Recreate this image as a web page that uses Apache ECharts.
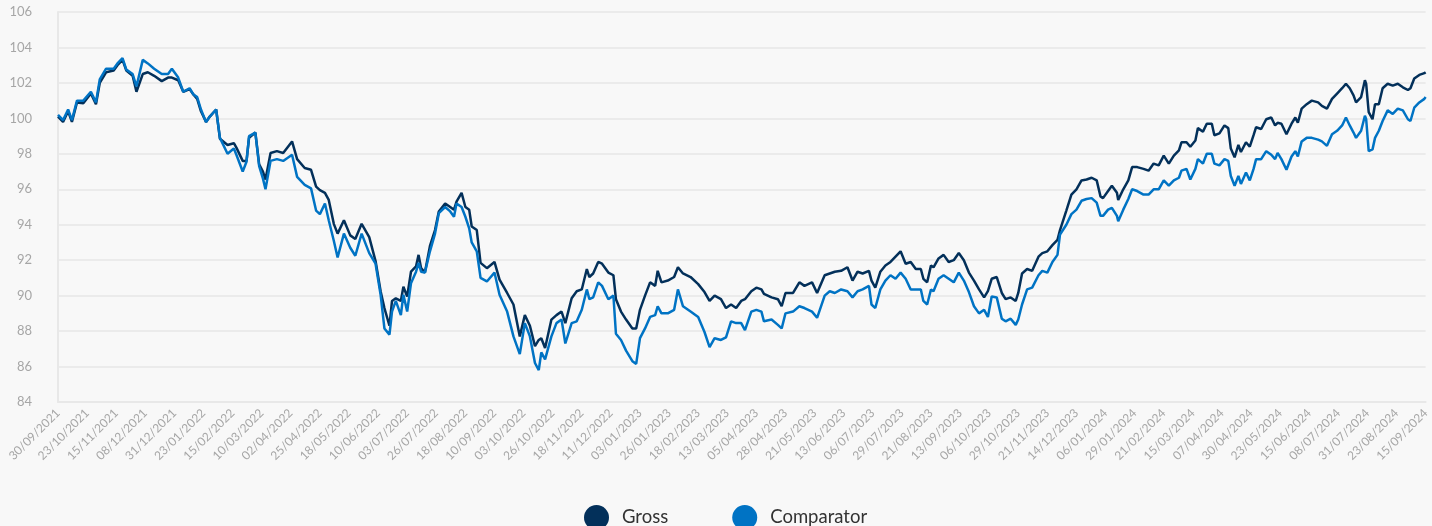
<!DOCTYPE html>
<html>
<head>
<meta charset="utf-8">
<script src="https://cdn.jsdelivr.net/npm/echarts@6/dist/echarts.min.js"></script>
<style>
  html, body { margin: 0; padding: 0; background: #f8f8f8; }
  #chart { width: 1432px; height: 526px; }
</style>
</head>
<body>
<div id="chart"></div>
<script>
// tick labels, one every 23 days from 30/09/2021
var tickLabels = ['30/09/2021','23/10/2021','15/11/2021','08/12/2021','31/12/2021',
  '23/01/2022','15/02/2022','10/03/2022','02/04/2022','25/04/2022','18/05/2022','10/06/2022',
  '03/07/2022','26/07/2022','18/08/2022','10/09/2022','03/10/2022','26/10/2022','18/11/2022','11/12/2022',
  '03/01/2023','26/01/2023','18/02/2023','13/03/2023','05/04/2023','28/04/2023','21/05/2023','13/06/2023',
  '06/07/2023','29/07/2023','21/08/2023','13/09/2023','06/10/2023','29/10/2023','21/11/2023','14/12/2023',
  '06/01/2024','29/01/2024','21/02/2024','15/03/2024','07/04/2024','30/04/2024','23/05/2024','15/06/2024',
  '08/07/2024','31/07/2024','23/08/2024','15/09/2024'];

// day offset from 30/09/2021 of each reading
var days = [0,4,8,11,15,20,26,30,33,38,44,47,51,54,59,62,67,71,76,82,87,90,95,99,104,107,110,113,117,120,125,128,134,139,
  141,146,149,151,156,159,162,164,168,173,178,185,189,195,200,204,207,211,214,218,221,226,231,235,240,246,251,255,258,262,264,267,271,
  273,276,279,283,285,287,290,294,298,301,306,310,313,315,319,322,325,327,331,334,339,345,349,355,360,365,369,373,377,380,382,385,390,394,398,401,406,
  410,414,418,420,423,427,430,435,439,441,445,449,454,457,460,464,468,472,474,477,482,487,490,494,500,506,511,515,519,524,528,532,536,
  540,543,548,552,556,558,564,569,572,575,581,586,590,596,600,606,610,614,619,624,628,632,636,641,643,646,650,654,658,662,666,670,674,
  678,682,684,687,690,692,696,700,704,708,712,716,720,724,728,732,735,738,742,746,749,753,757,759,762,766,770,775,778,782,786,790,792,797,801,
  805,809,813,817,821,824,826,830,833,837,838,842,846,849,853,858,862,866,870,874,878,882,886,888,892,895,899,901,905,908,912,914,918,922,925,927,930,933,935,939,942,945,
  947,951,955,959,962,964,967,971,975,978,980,983,987,991,996,999,1003,1007,1011,1015,1018,1021,1024,1026,1030,1033,1034,1036,1039,1041,1044,1047,1051,1055,1059,1063,1067,1069,1072,1076,1080,1081];

var gross = [100.1,99.8,100.4,99.8,100.9,100.85,101.4,100.8,102.0,102.6,102.7,103.0,103.3,102.7,102.4,101.5,102.5,102.6,102.4,102.1,102.3,102.3,102.15,101.5,101.65,101.35,101.1,100.4,99.8,100.1,100.5,98.85,98.5,98.6,
  98.35,97.6,97.6,98.9,99.2,97.4,97.0,96.55,98.05,98.15,98.05,98.7,97.7,97.2,97.1,96.15,95.95,95.8,95.4,94.05,93.5,94.25,93.4,93.2,94.05,93.3,91.95,90.25,89.3,88.3,89.7,89.85,89.7,
  90.5,89.95,91.35,91.65,92.3,91.55,91.3,92.8,93.7,94.75,95.2,95.0,94.85,95.3,95.8,95.0,94.85,93.9,93.7,91.85,91.55,91.9,90.9,90.15,89.5,87.7,88.9,88.3,87.15,87.5,87.6,87.05,88.65,88.9,89.1,88.45,89.85,
  90.25,90.35,91.5,91.05,91.25,91.9,91.8,91.3,91.15,89.8,89.1,88.65,88.15,88.15,89.2,90.0,90.75,90.55,91.4,90.75,90.85,91.05,91.6,91.25,91.05,90.65,90.2,89.7,90.0,89.8,89.3,89.5,89.3,
  89.7,89.8,90.25,90.45,90.35,90.1,89.9,89.8,89.4,90.15,90.15,90.75,90.55,90.75,90.15,91.15,91.25,91.35,91.4,91.6,90.85,91.35,91.25,91.4,90.85,90.45,91.35,91.7,91.9,92.2,92.5,91.8,91.9,
  91.5,91.5,90.95,90.75,91.7,91.6,92.1,92.3,91.9,92.0,92.4,92.0,91.3,90.85,90.35,89.9,90.25,90.95,91.05,90.15,89.8,89.9,89.7,90.15,91.25,91.5,91.4,92.2,92.4,92.5,92.85,93.15,93.7,94.8,95.7,
  96.0,96.5,96.55,96.65,96.5,95.6,95.5,95.9,96.2,95.8,95.4,96.0,96.5,97.25,97.25,97.15,97.05,97.45,97.35,97.9,97.45,97.9,98.2,98.65,98.65,98.4,98.75,99.45,99.25,99.7,99.7,99.05,99.15,99.6,99.45,98.3,97.8,98.5,98.1,98.65,98.4,99.05,
  99.5,99.4,99.95,100.05,99.6,99.75,99.7,99.1,99.7,100.05,99.75,100.55,100.8,101.0,100.9,100.7,100.55,101.1,101.4,101.7,101.95,101.7,101.3,100.9,101.2,102.15,101.95,100.35,99.95,100.8,100.8,101.7,101.95,101.85,101.95,101.75,101.6,101.7,102.25,102.45,102.55,102.6];

var comparator = [100.2,99.9,100.5,99.9,101.0,101.0,101.5,100.9,102.2,102.8,102.8,103.1,103.4,102.75,102.5,101.8,103.3,103.1,102.8,102.5,102.5,102.8,102.3,101.5,101.7,101.35,101.2,100.5,99.8,100.1,100.5,98.9,98.0,98.3,
  97.95,97.0,97.55,99.0,99.2,97.3,96.6,96.0,97.6,97.7,97.6,97.95,96.7,96.25,96.05,94.8,94.6,95.2,94.25,93.1,92.15,93.5,92.7,92.25,93.5,92.4,91.8,90.05,88.15,87.8,89.1,89.7,88.9,
  90.05,89.1,90.7,91.35,91.85,91.35,91.3,92.5,93.5,94.65,95.0,94.75,94.45,95.2,95.0,94.45,93.8,93.0,92.5,91.0,90.8,91.3,90.05,89.1,87.7,86.7,88.45,87.7,86.2,85.8,86.8,86.4,87.7,88.45,88.65,87.3,88.45,
  88.55,89.2,90.35,89.8,89.9,90.75,90.55,89.8,90.0,87.85,87.5,86.9,86.3,86.15,87.6,88.15,88.8,88.9,89.4,89.0,89.0,89.2,90.35,89.4,89.1,88.8,87.95,87.1,87.6,87.5,87.65,88.55,88.45,
  88.45,88.05,89.1,89.2,89.1,88.55,88.65,88.35,88.15,89.0,89.1,89.4,89.3,89.1,88.75,90.0,90.25,90.15,90.35,90.25,89.9,90.25,90.35,90.55,89.5,89.3,90.35,90.85,91.15,90.95,91.3,90.95,90.35,
  90.35,90.35,89.7,89.5,90.35,90.25,90.95,91.15,90.95,90.75,91.3,90.85,90.2,89.4,89.0,89.2,88.8,89.95,89.9,88.7,88.55,88.7,88.35,88.65,89.5,90.35,90.45,91.15,91.4,91.3,91.9,92.3,93.45,94.0,94.6,
  94.85,95.35,95.45,95.5,95.25,94.5,94.5,94.85,94.95,94.5,94.2,94.85,95.45,96.0,95.9,95.7,95.7,96.0,96.0,96.5,96.2,96.5,96.65,97.05,97.15,96.55,97.15,97.7,97.45,98.0,98.0,97.45,97.35,97.7,97.6,96.75,96.2,96.75,96.3,96.95,96.5,97.15,
  97.7,97.7,98.15,97.95,97.7,98.05,97.7,97.1,97.85,98.15,97.85,98.7,98.9,98.9,98.8,98.7,98.45,99.1,99.3,99.6,100.05,99.6,99.2,98.9,99.3,100.15,99.95,98.15,98.25,98.9,99.3,99.85,100.45,100.25,100.55,100.45,99.95,99.85,100.6,100.9,101.1,101.2];

var seriesNames = ['Gross', 'Comparator'];

function pairs(vals) {
  return days.map(function (d, i) { return [d, vals[i]]; });
}

var myChart = echarts.init(document.getElementById('chart'));
myChart.setOption({
  backgroundColor: '#f8f8f8',
  textStyle: { fontFamily: 'Lato, "Open Sans", sans-serif' },
  animation: false,
  color: ['#03305a', '#0073c4'],
  grid: { left: 58, right: 2, top: 12, bottom: 124 },
  legend: {
    data: seriesNames,
    left: 584,
    top: 505,
    padding: 0,
    icon: 'circle',
    itemWidth: 25,
    itemHeight: 25,
    itemGap: 64,
    textStyle: { fontSize: 18.5, color: '#333', padding: [0, 0, 0, 8] }
  },
  xAxis: {
    type: 'value',
    min: 0,
    max: 1081,
    interval: 23,
    axisLine: { show: true, lineStyle: { color: '#e8e8e8', width: 2 } },
    axisTick: { show: false },
    splitLine: { show: false },
    axisLabel: {
      rotate: 45,
      color: '#a6a6a6',
      fontSize: 12,
      margin: 9,
      showMinLabel: true,
      showMaxLabel: true,
      formatter: function (v) { return tickLabels[Math.round(v / 23)] || ''; }
    }
  },
  yAxis: {
    type: 'value',
    min: 84,
    max: 106,
    interval: 2,
    axisLine: { show: true, lineStyle: { color: '#e8e8e8', width: 2 } },
    axisTick: { show: false },
    splitLine: { lineStyle: { color: '#ebebeb', width: 2 } },
    axisLabel: { color: '#a6a6a6', fontSize: 13, margin: 26, padding: [9, 0, 0, 0] }
  },
  series: [
    {
      name: 'Gross',
      type: 'line',
      data: pairs(gross),
      showSymbol: false,
      lineStyle: { width: 2.5 }
    },
    {
      name: 'Comparator',
      type: 'line',
      data: pairs(comparator),
      showSymbol: false,
      lineStyle: { width: 2.5 }
    }
  ]
});
</script>
</body>
</html>
